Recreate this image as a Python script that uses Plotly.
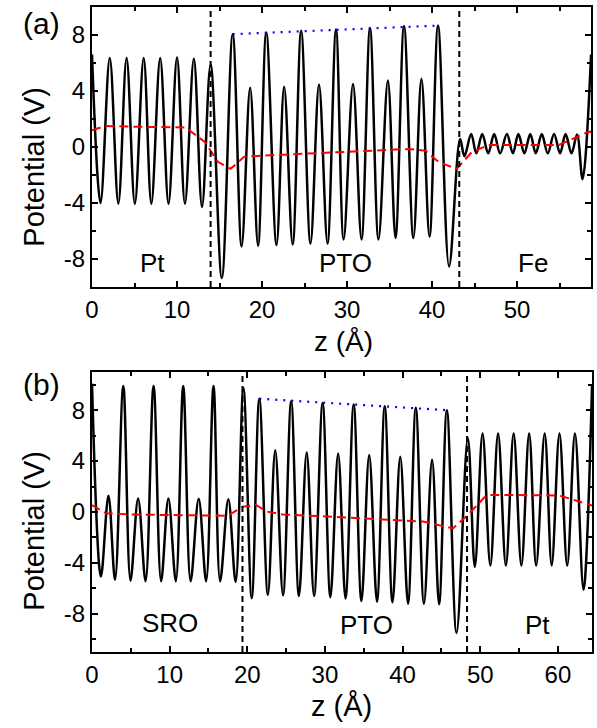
import plotly.graph_objects as go

# ---------------- Panel (a) data ----------------
z_a = [0, 1.0, 2.09, 3.1, 4.07, 5.04, 6.08, 6.98, 8.02, 9.0,
       10.0, 10.93, 11.98, 12.94, 13.95, 15.27, 16.55, 17.6, 18.6, 19.53,
       20.5, 21.7, 22.6, 23.6, 24.6, 25.7, 26.7, 27.7, 28.7, 29.6,
       30.7, 31.7, 32.7, 33.7, 34.8, 35.7, 36.7, 37.8, 38.75, 39.7,
       40.7, 42.0, 43.3, 43.8, 44.6, 45.2, 45.9, 46.6, 47.3, 48.0,
       48.8, 49.5, 50.15, 50.85, 51.55, 52.2, 52.9, 53.6, 54.35, 55.05,
       55.7, 56.4, 57.05, 57.7, 58.7]
v_a = [6.6, -4.0, 6.35, -4.05, 6.35, -4.05, 6.35, -4.05, 6.35, -4.05,
       6.4, -4.05, 6.3, -4.28, 5.9, -9.36, 8.06, -7.1, 4.23, -7.05,
       8.18, -7.0, 4.3, -6.97, 8.3, -6.9, 4.47, -6.9, 8.4, -6.6,
       4.5, -6.6, 8.5, -6.6, 4.75, -6.5, 8.65, -6.5, 4.87, -6.4,
       8.67, -8.53, 0.57, -0.66, 0.92, -0.45, 0.92, -0.45, 0.92, -0.45,
       0.92, -0.45, 0.92, -0.45, 0.92, -0.45, 0.92, -0.45, 0.92, -0.45,
       0.92, -0.45, 0.9, -2.3, 6.6]
zavg_a = [0, 1.6, 5, 11, 13.3, 14.8, 16.3, 17.9, 20, 24.5, 30, 35, 37.3, 39.2,
          40.8, 42.9, 44.65, 46.6, 50, 54.9, 58.2, 58.7]
vavg_a = [1.2, 1.5, 1.45, 1.4, 0.35, -1.06, -1.56, -0.7, -0.62, -0.5, -0.35, -0.2,
          -0.14, -0.27, -1.09, -1.56, -0.38, 0.14, 0.14, 0.14, 1.04, 1.1]
zpk_a = [16.55, 40.7]
vpk_a = [8.06, 8.67]
iface_a = [13.95, 43.2]
regions_a = ["Pt", "PTO", "Fe"]
region_z_a = [7.1, 29.8, 51.9]
region_v_a = [-8.3, -8.3, -8.3]

# ---------------- Panel (b) data ----------------
z_b = [0, 1.15, 2.12, 2.97, 4.03, 4.96, 5.94, 6.9, 7.93, 8.9,
       9.84, 10.8, 11.75, 12.7, 13.74, 14.7, 15.65, 16.5, 17.56, 18.5,
       19.5, 20.57, 21.55, 22.65, 23.6, 24.6, 25.65, 26.65, 27.65, 28.6,
       29.7, 30.7, 31.7, 32.65, 33.7, 34.7, 35.7, 36.7, 37.7, 38.7,
       39.7, 40.7, 41.7, 42.75, 43.8, 44.7, 45.7, 46.95, 48.4, 49.3,
       50.3, 51.3, 52.3, 53.3, 54.3, 55.3, 56.3, 57.2, 58.3, 59.2,
       60.2, 61.2, 62.2, 63.3, 64.4]
v_b = [10.1, -5.07, 1.28, -5.33, 9.9, -5.4, 1.07, -5.45, 9.9, -5.45,
       1.07, -5.45, 9.9, -5.45, 1.05, -5.45, 9.9, -5.45, 1.0, -5.5,
       9.75, -6.77, 8.9, -6.5, 4.86, -6.55, 8.7, -6.6, 4.68, -6.6,
       8.57, -6.7, 4.6, -6.8, 8.45, -7.0, 4.47, -7.05, 8.3, -7.1,
       4.34, -7.2, 8.2, -7.2, 4.1, -7.25, 8.0, -9.5, 5.8, -4.3,
       6.17, -4.2, 6.17, -4.2, 6.17, -4.2, 6.17, -4.2, 6.17, -4.2,
       6.17, -4.2, 6.17, -6.1, 10.0]
zavg_b = [0, 1.8, 5, 10, 15, 17.5, 19.4, 21.1, 22.6, 24.6, 29, 33.6, 38, 42.6,
          46.5, 48.4, 50.8, 55, 60.2, 64.4]
vavg_b = [0.55, -0.1, -0.2, -0.25, -0.28, -0.29, 0.42, 0.55, 0.03, -0.2, -0.32,
          -0.44, -0.6, -0.75, -1.28, -0.24, 1.33, 1.33, 1.3, 0.5]
zpk_b = [21.55, 45.7]
vpk_b = [8.9, 8.0]
iface_b = [19.38, 48.3]
regions_b = ["SRO", "PTO", "Pt"]
region_z_b = [10.0, 35.3, 57.4]
region_v_b = [-8.7, -8.9, -8.9]

ytick_vals = [-8, -4, 0, 4, 8]
ytick_text = ["-8", "-4", "0", "4", "8"]

FONT = "Liberation Sans, Arial, sans-serif"
W, H = 597, 728

fig = go.Figure()


def add_panel(xa, ya, z, v, za, va, zp, vp):
    fig.add_trace(go.Scatter(x=z, y=v, mode="lines", xaxis=xa, yaxis=ya,
                             line=dict(color="black", width=2.5, shape="spline", smoothing=1.0),
                             showlegend=False, hoverinfo="skip"))
    fig.add_trace(go.Scatter(x=za, y=va, mode="lines", xaxis=xa, yaxis=ya,
                             line=dict(color="#ff0000", width=2, dash="9px,5px"),
                             showlegend=False, hoverinfo="skip"))
    fig.add_trace(go.Scatter(x=zp, y=vp, mode="lines", xaxis=xa, yaxis=ya,
                             line=dict(color="#0000ff", width=2.2, dash="2px,6px"),
                             showlegend=False, hoverinfo="skip"))


add_panel("x", "y", z_a, v_a, zavg_a, vavg_a, zpk_a, vpk_a)
add_panel("x2", "y2", z_b, v_b, zavg_b, vavg_b, zpk_b, vpk_b)

shapes = []
for zi in iface_a:
    shapes.append(dict(type="line", xref="x", yref="y domain", x0=zi, x1=zi, y0=0, y1=1,
                       line=dict(color="black", width=2, dash="6px,4px")))
for zi in iface_b:
    shapes.append(dict(type="line", xref="x2", yref="y2 domain", x0=zi, x1=zi, y0=0, y1=1,
                       line=dict(color="black", width=2, dash="6px,4px")))

annotations = []
for t, zx, vy in zip(regions_a, region_z_a, region_v_a):
    annotations.append(dict(text=t, x=zx, y=vy, xref="x", yref="y", showarrow=False,
                            font=dict(size=26, color="black", family=FONT)))
for t, zx, vy in zip(regions_b, region_z_b, region_v_b):
    annotations.append(dict(text=t, x=zx, y=vy, xref="x2", yref="y2", showarrow=False,
                            font=dict(size=26, color="black", family=FONT)))

# titles and panel labels
for txt, px, py, ang, sz in [("Potential (V)", 27, 167, -90, 29),
                             ("Potential (V)", 27, 531, -90, 29),
                             ("z (Å)", 340, 341, 0, 28),
                             ("z (Å)", 338, 706, 0, 29),
                             ("(a)", 35, 24, 0, 30),
                             ("(b)", 35, 384, 0, 30)]:
    annotations.append(dict(text=txt, x=px / W, y=1 - py / H, xref="paper", yref="paper",
                            xanchor="center", yanchor="middle", showarrow=False, textangle=ang,
                            font=dict(size=sz, color="black", family=FONT)))

axis_common = dict(showline=True, linecolor="black", linewidth=2, mirror="allticks",
                   ticks="inside", ticklen=6, tickwidth=1.5, tickcolor="black",
                   showgrid=False, zeroline=False,
                   tickfont=dict(size=24, color="black", family=FONT))

fig.update_layout(
    width=W, height=H,
    margin=dict(l=0, r=0, t=0, b=0),
    paper_bgcolor="white", plot_bgcolor="white",
    showlegend=False,
    shapes=shapes,
    annotations=annotations,
    xaxis=dict(domain=[86 / W, 591 / W], range=[0, 58.7], anchor="y",
               tickmode="linear", tick0=0, dtick=10,
               minor=dict(ticks="inside", ticklen=4, dtick=5, tick0=0, tickcolor="black", tickwidth=1.5),
               **axis_common),
    yaxis=dict(domain=[1 - 287 / H, 1 - 7 / H], range=[-10, 10], anchor="x",
               tickmode="array", tickvals=ytick_vals, ticktext=ytick_text,
               minor=dict(ticks="inside", ticklen=4, dtick=2, tick0=0, tickcolor="black", tickwidth=1.5),
               **axis_common),
    xaxis2=dict(domain=[86 / W, 592 / W], range=[0, 64.4], anchor="y2",
                tickmode="linear", tick0=0, dtick=10,
                minor=dict(ticks="inside", ticklen=4, dtick=5, tick0=0, tickcolor="black", tickwidth=1.5),
                **axis_common),
    yaxis2=dict(domain=[1 - 652 / H, 1 - 372 / H], range=[-11, 11], anchor="x2",
                tickmode="array", tickvals=ytick_vals, ticktext=ytick_text,
                minor=dict(ticks="inside", ticklen=4, dtick=2, tick0=0, tickcolor="black", tickwidth=1.5),
                **axis_common),
)

fig.write_html("out.html")
